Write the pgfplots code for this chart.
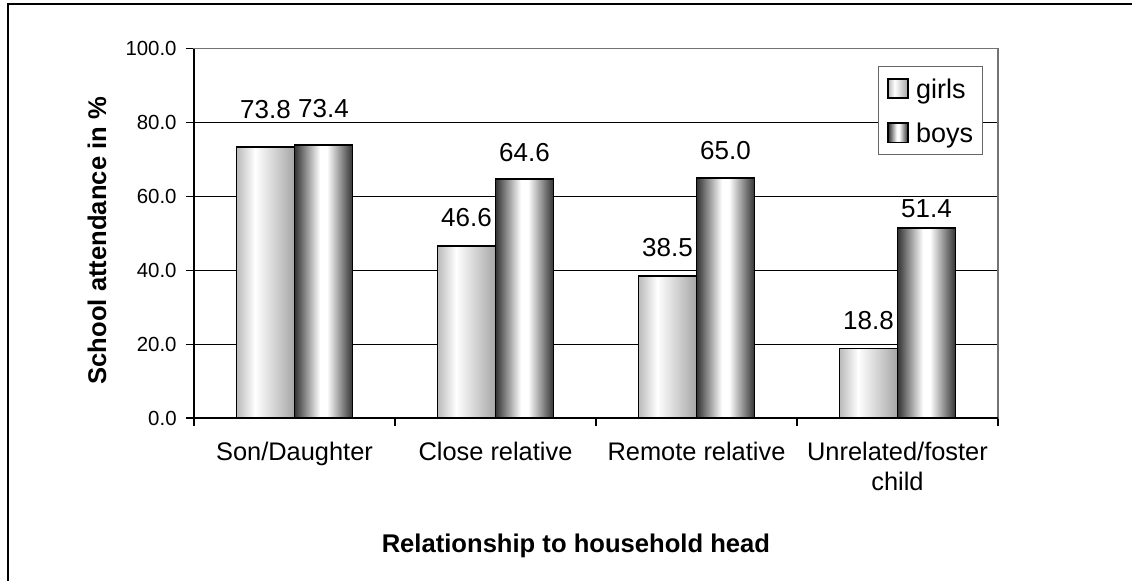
\documentclass[border=0pt]{standalone}
\usepackage{pgfplots}
\pgfplotsset{compat=1.18}
\usepackage{fontspec}
\setmainfont{Liberation Sans}

\pgfdeclarehorizontalshading{girlsh}{100bp}{color(0bp)=(black!27); color(25bp)=(black!27); color(41bp)=(white); color(75bp)=(black!35); color(100bp)=(black!35)}
\pgfdeclarehorizontalshading{boysh}{100bp}{color(0bp)=(black!80); color(25bp)=(black!80); color(47bp)=(white); color(53bp)=(white); color(75bp)=(black!80); color(100bp)=(black!80)}

\pgfplotsset{
  girlbar/.style={draw=black, line width=0.9pt, shade, shading=girlsh, bar shift=-14.5pt,
    nodes near coords, point meta=explicit symbolic,
    every node near coord/.append style={anchor=base, inner sep=0pt, text=black, yshift=#1, font=\fontsize{13}{15}\selectfont}},
  boybar/.style={draw=black, line width=0.9pt, shade, shading=boysh, bar shift=14.5pt,
    nodes near coords, point meta=explicit symbolic,
    every node near coord/.append style={anchor=base, inner sep=0pt, text=black, yshift=#1, font=\fontsize{13}{15}\selectfont}},
}

\begin{document}
\begin{tikzpicture}
\path[use as bounding box] (-97pt,-81pt) rectangle (469pt,209pt);
\draw[line width=0.8pt] (-93pt,-82pt) -- (-93pt,207pt) -- (470pt,207pt);
\begin{axis}[
  at={(0,0)}, anchor=south west,
  scale only axis, width=402pt, height=184.75pt,
  xmin=-0.5, xmax=3.5, ymin=0, ymax=100,
  xtick={-0.5,0.5,1.5,2.5,3.5},
  x tick label as interval,
  xticklabels={Son/Daughter,Close relative,Remote relative,{Unrelated/foster\\child}},
  ytick={0,20,...,100},
  tick align=outside, tick pos=left,
  major tick length=4pt,
  tick style={black, line width=0.6pt},
  ymajorgrids, grid style={black, line width=0.5pt},
  axis line style={draw=black!55, line width=0.6pt},
  /pgf/number format/fixed, /pgf/number format/fixed zerofill, /pgf/number format/precision=1,
  /pgf/number format/assume math mode=true,
  yticklabel style={font=\fontsize{10.2}{12}\selectfont, inner sep=0pt, xshift=-4.5pt},
  xticklabel style={font=\fontsize{12.7}{15}\selectfont, align=center, inner sep=0pt, anchor=north, yshift=-8pt},
  xlabel={\bfseries Relationship to household head},
  ylabel={\bfseries School attendance in \%},
  xlabel style={font=\fontsize{12.8}{15}\selectfont, at={(axis description cs:0.475,-0.346)}, anchor=center},
  ylabel style={font=\fontsize{12.8}{15}\selectfont, at={(axis description cs:-0.1206,0.48)}, anchor=center},
  ybar=0pt, bar width=29pt,
  every axis plot/.append style={legend image code/.code={\draw[#1] (0pt,-4.875pt) rectangle (9.75pt,4.875pt); \path (13.5pt,0pt);}},
  legend style={at={(axis description cs:0.981,0.953)}, anchor=north east, draw=black!60, line width=0.5pt, fill=white,
    font=\fontsize{13.5}{16}\selectfont, inner xsep=4.5pt, inner ysep=5.75pt, row sep=11.5pt,
    nodes={inner sep=0pt, text height=10pt, text depth=0pt}},
  legend cell align=left,
  after end axis/.code={
    \draw[black, line width=0.8pt] (rel axis cs:0,1) -- (rel axis cs:0,0) -- (rel axis cs:1,0);
  },
]
% Son/Daughter
\addplot[girlbar=14pt] coordinates {(0,73.4) [73.8]};
\addplot[boybar=14pt] coordinates {(0,73.8) [73.4]};
% Close relative
\addplot[girlbar=9.5pt, forget plot] coordinates {(1,46.6) [46.6]};
\addplot[boybar=9pt, forget plot] coordinates {(1,64.6) [64.6]};
% Remote relative
\addplot[girlbar=9.5pt, forget plot] coordinates {(2,38.5) [38.5]};
\addplot[boybar=9pt, forget plot] coordinates {(2,65.0) [65.0]};
% Unrelated/foster child
\addplot[girlbar=9.5pt, forget plot] coordinates {(3,18.8) [18.8]};
\addplot[boybar=5.5pt, forget plot] coordinates {(3,51.4) [51.4]};
\legend{girls,boys}
\end{axis}
\end{tikzpicture}
\end{document}
